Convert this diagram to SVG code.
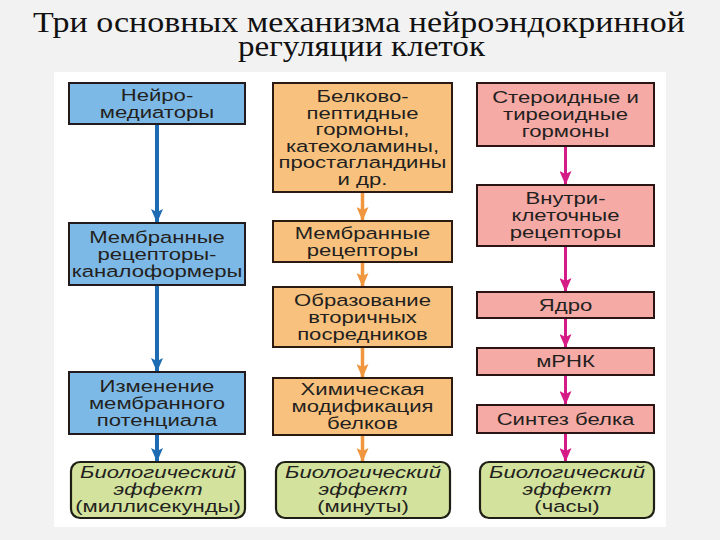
<svg xmlns="http://www.w3.org/2000/svg" width="720" height="540" viewBox="0 0 720 540">
<defs>
<style>
.t{font-family:"Liberation Sans",Arial,sans-serif;font-size:17px;fill:#231f20;text-anchor:middle}
.i{font-style:italic}
.title{font-family:"Liberation Serif","Times New Roman",serif;font-size:30px;fill:#111;text-anchor:middle}
.bl{fill:#7db9e6;stroke:#231a1e;stroke-width:2}
.or{fill:#f8c27e;stroke:#2a1a12;stroke-width:2}
.pk{fill:#f5aaa5;stroke:#2a1414;stroke-width:2}
.gr{fill:#d3e39d;stroke:#1e1e14;stroke-width:2.2}
.ab{stroke:#1d6cb3;stroke-width:4;fill:none}
.ao{stroke:#f0963e;stroke-width:3.5;fill:none}
.am{stroke:#d51b86;stroke-width:3;fill:none}
</style>
<marker id="mb" viewBox="0 0 14 12" refX="14" refY="6" markerWidth="14" markerHeight="12" markerUnits="userSpaceOnUse" orient="auto"><path d="M0,0 L14,6 L0,12 L3,6 z" fill="#1d6cb3"/></marker>
<marker id="mo" viewBox="0 0 14 12" refX="14" refY="6" markerWidth="14" markerHeight="12" markerUnits="userSpaceOnUse" orient="auto"><path d="M0,0 L14,6 L0,12 L3,6 z" fill="#f0963e"/></marker>
<marker id="mm" viewBox="0 0 14 12" refX="14" refY="6" markerWidth="14" markerHeight="12" markerUnits="userSpaceOnUse" orient="auto"><path d="M0,0 L14,6 L0,12 L3,6 z" fill="#d51b86"/></marker>
</defs>
<rect x="0" y="0" width="720" height="540" fill="#f2f2f2"/>
<rect x="54" y="72" width="612" height="455" fill="#ffffff"/>
<g id="title">
<text class="title" x="359" y="32" textLength="652" lengthAdjust="spacingAndGlyphs">Три основных механизма нейроэндокринной</text>
<text class="title" x="361.5" y="56" textLength="247" lengthAdjust="spacingAndGlyphs">регуляции клеток</text>
</g>
<g id="connectors">
<line class="ab" x1="157" y1="124" x2="157" y2="223" marker-end="url(#mb)"/>
<line class="ab" x1="157" y1="285" x2="157" y2="372" marker-end="url(#mb)"/>
<line class="ab" x1="157" y1="434" x2="157" y2="462" marker-end="url(#mb)"/>
<line class="ao" x1="362.5" y1="192" x2="362.5" y2="221" marker-end="url(#mo)"/>
<line class="ao" x1="362.5" y1="262" x2="362.5" y2="287" marker-end="url(#mo)"/>
<line class="ao" x1="362.5" y1="347" x2="362.5" y2="378" marker-end="url(#mo)"/>
<line class="ao" x1="362.5" y1="435" x2="362.5" y2="462" marker-end="url(#mo)"/>
<line class="am" x1="565.5" y1="146" x2="565.5" y2="185" marker-end="url(#mm)"/>
<line class="am" x1="565.5" y1="246" x2="565.5" y2="292" marker-end="url(#mm)"/>
<line class="am" x1="565.5" y1="318" x2="565.5" y2="348" marker-end="url(#mm)"/>
<line class="am" x1="565.5" y1="375" x2="565.5" y2="405" marker-end="url(#mm)"/>
<line class="am" x1="565.5" y1="433" x2="565.5" y2="462" marker-end="url(#mm)"/>
</g>
<g id="b1"><rect class="bl" x="69" y="83" width="176" height="41"/>
<g transform="translate(157 0) scale(1.3 1)"><text class="t" x="0" y="101">Нейро-</text><text class="t" x="0" y="118">медиаторы</text></g></g>
<g id="b2"><rect class="bl" x="69" y="223" width="176" height="62"/>
<g transform="translate(157 0) scale(1.3 1)"><text class="t" x="0" y="243">Мембранные</text><text class="t" x="0" y="260">рецепторы-</text><text class="t" x="0" y="277">каналоформеры</text></g></g>
<g id="b3"><rect class="bl" x="69" y="372" width="176" height="62"/>
<g transform="translate(157 0) scale(1.3 1)"><text class="t" x="0" y="392">Изменение</text><text class="t" x="0" y="409">мембранного</text><text class="t" x="0" y="426">потенциала</text></g></g>
<g id="g1"><rect class="gr" x="71" y="462" width="174" height="56" rx="9"/>
<g transform="translate(158 0) scale(1.3 1)"><text class="t i" x="0" y="478">Биологический</text><text class="t i" x="0" y="495">эффект</text><text class="t" x="0" y="512">(миллисекунды)</text></g></g>
<g id="o1"><rect class="or" x="273" y="83" width="179" height="109"/>
<g transform="translate(362.5 0) scale(1.3 1)"><text class="t" x="0" y="102">Белково-</text><text class="t" x="0" y="118.6">пептидные</text><text class="t" x="0" y="135.2">гормоны,</text><text class="t" x="0" y="151.8">катехоламины,</text><text class="t" x="0" y="168.4">простагландины</text><text class="t" x="0" y="185">и др.</text></g></g>
<g id="o2"><rect class="or" x="273" y="221" width="179" height="41"/>
<g transform="translate(362.5 0) scale(1.3 1)"><text class="t" x="0" y="239">Мембранные</text><text class="t" x="0" y="256">рецепторы</text></g></g>
<g id="o3"><rect class="or" x="273" y="287" width="179" height="60"/>
<g transform="translate(362.5 0) scale(1.3 1)"><text class="t" x="0" y="306">Образование</text><text class="t" x="0" y="323">вторичных</text><text class="t" x="0" y="340">посредников</text></g></g>
<g id="o4"><rect class="or" x="273" y="378" width="179" height="57"/>
<g transform="translate(362.5 0) scale(1.3 1)"><text class="t" x="0" y="395.5">Химическая</text><text class="t" x="0" y="412.5">модификация</text><text class="t" x="0" y="429.5">белков</text></g></g>
<g id="g2"><rect class="gr" x="276" y="462" width="174" height="56" rx="9"/>
<g transform="translate(363 0) scale(1.3 1)"><text class="t i" x="0" y="478">Биологический</text><text class="t i" x="0" y="495">эффект</text><text class="t" x="0" y="512">(минуты)</text></g></g>
<g id="p1"><rect class="pk" x="477" y="83" width="177" height="63"/>
<g transform="translate(565.5 0) scale(1.3 1)"><text class="t" x="0" y="103.5">Стероидные и</text><text class="t" x="0" y="120.5">тиреоидные</text><text class="t" x="0" y="137.5">гормоны</text></g></g>
<g id="p2"><rect class="pk" x="477" y="185" width="177" height="61"/>
<g transform="translate(565.5 0) scale(1.3 1)"><text class="t" x="0" y="204.5">Внутри-</text><text class="t" x="0" y="221.5">клеточные</text><text class="t" x="0" y="238.5">рецепторы</text></g></g>
<g id="p3"><rect class="pk" x="477" y="292" width="177" height="26"/>
<g transform="translate(565.5 0) scale(1.3 1)"><text class="t" x="0" y="311">Ядро</text></g></g>
<g id="p4"><rect class="pk" x="477" y="348" width="177" height="27"/>
<g transform="translate(565.5 0) scale(1.3 1)"><text class="t" x="0" y="367.5">мРНК</text></g></g>
<g id="p5"><rect class="pk" x="477" y="405" width="177" height="28"/>
<g transform="translate(565.5 0) scale(1.3 1)"><text class="t" x="0" y="425">Синтез белка</text></g></g>
<g id="g3"><rect class="gr" x="480" y="462" width="174" height="56" rx="9"/>
<g transform="translate(567 0) scale(1.3 1)"><text class="t i" x="0" y="478">Биологический</text><text class="t i" x="0" y="495">эффект</text><text class="t" x="0" y="512">(часы)</text></g></g>
</svg>
